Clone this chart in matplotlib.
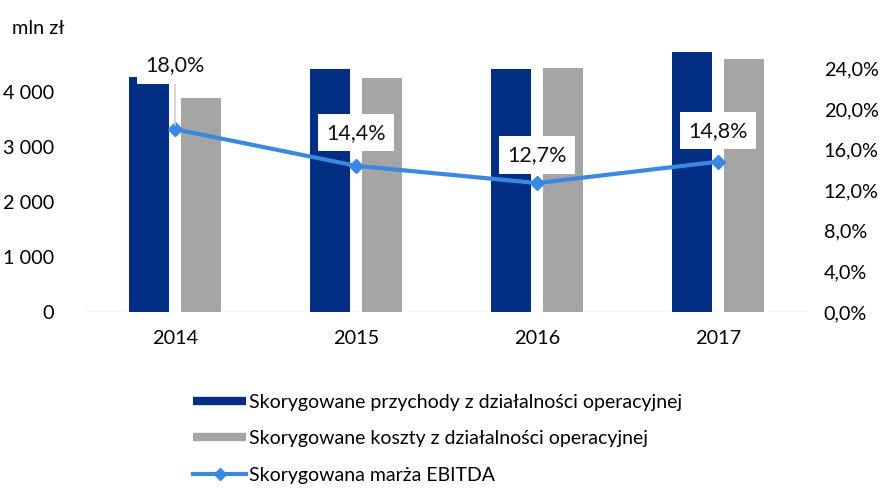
import matplotlib
matplotlib.use("Agg")
import matplotlib.pyplot as plt
from matplotlib.lines import Line2D
import numpy as np

years = ["2014", "2015", "2016", "2017"]
revenue = [4270, 4420, 4420, 4730]      # mln zł
costs = [3890, 4255, 4435, 4600]        # mln zł
margin = [18.0, 14.4, 12.7, 14.8]       # %
margin_labels = ["18,0%", "14,4%", "12,7%", "14,8%"]

left_ticks = [0, 1000, 2000, 3000, 4000]
left_tick_labels = ["0", "1 000", "2 000", "3 000", "4 000"]
right_ticks = [0, 4, 8, 12, 16, 20, 24]
right_tick_labels = ["0,0%", "4,0%", "8,0%", "12,0%", "16,0%", "20,0%", "24,0%"]

NAVY = "#022F84"
GREY = "#A5A5A5"
BLUE = "#3A88E2"

plt.rcParams["font.family"] = ["Lato", "DejaVu Sans"]
FS = 14.3

fig = plt.figure(figsize=(8.82, 4.90), dpi=100)
ax = fig.add_axes([84.5 / 882, (490 - 312) / 490, 724 / 882, 264 / 490])
ax2 = ax.twinx()

x = np.arange(len(years))
w = 0.22
off = 0.143
ax.bar(x - off, revenue, width=w, color=NAVY, zorder=2)
ax.bar(x + off, costs, width=w, color=GREY, zorder=2)
ax.axhline(0, color="#D9D9D9", lw=1, zorder=1)

ax.set_xlim(-0.5, 3.5)
ax.set_ylim(0, 4800)
ax.set_xticks(x)
ax.set_xticklabels(years, fontsize=FS)
ax.set_yticks(left_ticks)
ax.set_yticklabels(left_tick_labels, fontsize=FS)
ax.tick_params(axis="both", length=0)
ax.tick_params(axis="x", pad=13)
ax.tick_params(axis="y", pad=22)
for s in ax.spines.values():
    s.set_visible(False)

ax2.plot(x, margin, color=BLUE, lw=3, marker="D", ms=7, zorder=3)
ax2.set_ylim(0, 26)
ax2.set_yticks(right_ticks)
ax2.set_yticklabels(right_tick_labels, fontsize=FS)
ax2.tick_params(axis="y", length=0, pad=11)
for s in ax2.spines.values():
    s.set_visible(False)

# data labels above the margin points
label_offsets = [64, 33, 28, 31]
for xi, val, txt, dy in zip(x, margin, margin_labels, label_offsets):
    if dy > 50:
        ax2.annotate("", xy=(xi, val), xytext=(0, dy - 19),
                     textcoords="offset pixels",
                     xycoords="data",
                     arrowprops=dict(arrowstyle="-", color="#D0D0D0", lw=1.2,
                                     shrinkA=0, shrinkB=3),
                     zorder=4)
    ax2.annotate(txt, xy=(xi, val), xytext=(0, dy), textcoords="offset pixels",
                 ha="center", va="center", fontsize=15.5, color="#111111",
                 bbox=dict(boxstyle="square,pad=0.4", fc="white", ec="none"),
                 zorder=5)

fig.text(12 / 882, 1 - 28 / 490, "mln zł", fontsize=FS, va="center", ha="left")

handles = [
    Line2D([], [], color=NAVY, lw=6, solid_capstyle="butt"),
    Line2D([], [], color=GREY, lw=6, solid_capstyle="butt"),
    Line2D([], [], color=BLUE, lw=3, marker="D", ms=6),
]
labels = [
    "Skorygowane przychody z działalności operacyjnej",
    "Skorygowane koszty z działalności operacyjnej",
    "Skorygowana marża EBITDA",
]
fig.legend(handles, labels, loc="upper left",
           bbox_to_anchor=(185 / 882, 1 - 386 / 490), frameon=False,
           fontsize=14, handlelength=2.75, handletextpad=0.12,
           labelspacing=1.0, borderaxespad=0, numpoints=1)

fig.savefig("out.png", dpi=100, facecolor="white")
